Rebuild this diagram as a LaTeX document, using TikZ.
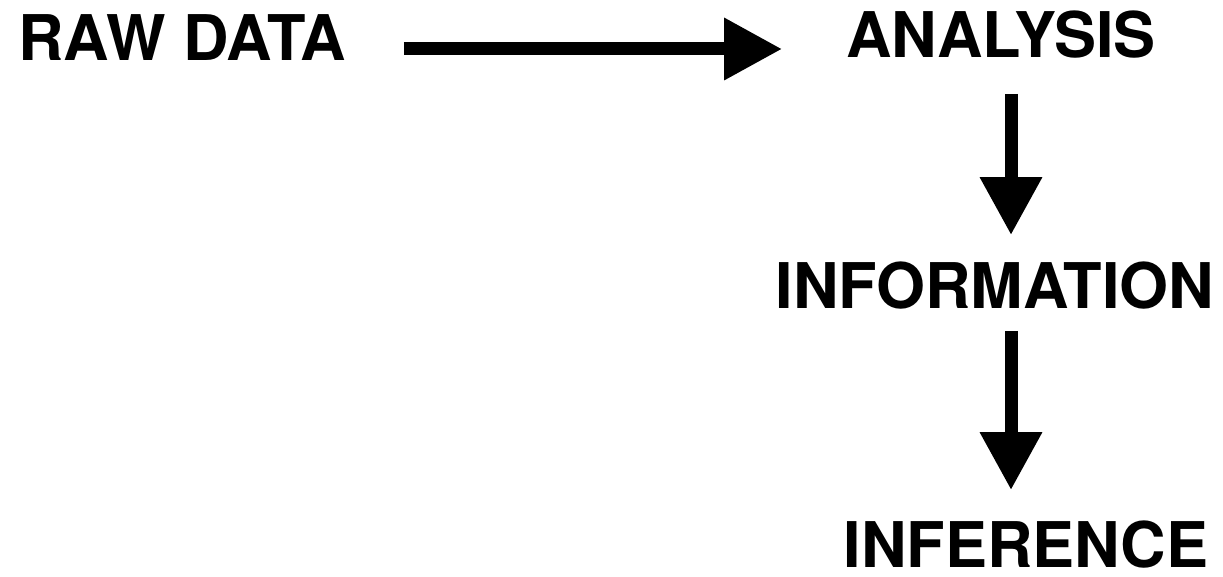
\documentclass[tikz,border=0pt]{standalone}
\usepackage{fontspec}
\setmainfont{TeX Gyre Heros}
\usepackage{tikz}
\usetikzlibrary{arrows.meta, calc}

\begin{document}
\begin{tikzpicture}[
  x=1pt, y=-1pt,
  label/.style={inner sep=0pt, font=\fontsize{63}{70}\selectfont\bfseries},
  bigarrow/.style={line width=13pt, -{Triangle[length=58pt, width=59pt]}}
]
  \useasboundingbox (0,0) rectangle (1223,577);

  % Blocs
  \node[label] (raw) at (182,38) {RAW DATA};
  \node[label] (analysis) at (1001,35) {ANALYSIS};
  \node[label] (info) at (995,286) {INFORMATION};
  \node[label] (inference) at (1026,545) {INFERENCE};

  % Flèche horizontale
  \draw[bigarrow, shorten <=58pt, shorten >=64pt]
    ([yshift=-11pt]raw.east) -- ([yshift=-11pt]raw.east -| analysis.west);

  % Flèches verticales
  \draw[bigarrow, shorten <=35pt, shorten >=27pt]
    ([xshift=10pt]analysis.south) -- ([xshift=10pt]analysis.south |- info.north);
  \draw[bigarrow, shorten <=21pt, shorten >=31pt]
    ([xshift=16pt]info.south) -- ([xshift=16pt]info.south |- inference.north);

\end{tikzpicture}
\end{document}
